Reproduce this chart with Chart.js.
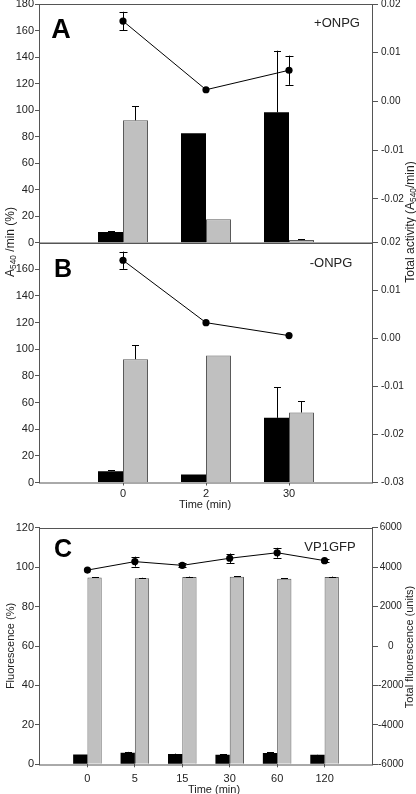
<!DOCTYPE html>
<html><head><meta charset="utf-8">
<script src="https://cdn.jsdelivr.net/npm/chart.js@4.4.1/dist/chart.umd.min.js"></script>
<style>
html,body{margin:0;padding:0;background:#fff;}
body{width:416px;height:794px;position:relative;overflow:hidden;font-family:"Liberation Sans",Arial,sans-serif;color:#222;}
canvas{position:absolute;left:0;}
.t{position:absolute;white-space:nowrap;transform:translate(-50%,-50%);line-height:1;}
.r{transform:translate(-50%,-50%) rotate(-90deg);}
.big{font-weight:bold;color:#000;}
sub{font-size:70%;vertical-align:-2px;line-height:0;}
</style></head><body>
<canvas id="cA" width="416" height="250" style="top:0px"></canvas>
<canvas id="cB" width="416" height="271" style="top:232px"></canvas>
<canvas id="cC" width="416" height="279" style="top:515px"></canvas>

<div class="t big" style="left:61px;top:29px;font-size:27px">A</div>
<div class="t big" style="left:63px;top:268px;font-size:25px">B</div>
<div class="t big" style="left:63px;top:548px;font-size:25px">C</div>
<div class="t" style="left:337px;top:22px;font-size:13px">+ONPG</div>
<div class="t" style="left:331px;top:262px;font-size:13px">-ONPG</div>
<div class="t" style="left:330px;top:546px;font-size:13px">VP1GFP</div>
<div class="t r" style="left:10px;top:242px;font-size:12px">A<sub>540</sub> /min (%)</div>
<div class="t r" style="left:410px;top:222px;font-size:12px">Total activity (A<sub>540</sub>/min)</div>
<div class="t r" style="left:10px;top:646px;font-size:11px">Fluorescence (%)</div>
<div class="t r" style="left:409px;top:647px;font-size:11px">Total fluorescence (units)</div>
<div class="t" style="left:205px;top:504px;font-size:11px">Time (min)</div>
<div class="t" style="left:214px;top:789px;font-size:11px">Time (min)</div>

<script>
// ---- data ----
const timeAB = ['0', '2', '30'];
const aBlack = [8, 82.5, 98.3];
const aBlackErr = [0.5, 0, 46.5];
const aGray = [92.3, 17.6, 2];
const aGrayErr = [10.7, 0, 0.8];
const aTotal = [0.0165, 0.0024, 0.0064];
const aTotalErr = [0.0019, 0, 0.003];

const bBlack = [8.5, 6, 48.5];
const bBlackErr = [0.7, 0, 23];
const bGray = [92.5, 95.3, 52.5];
const bGrayErr = [10.5, 0, 8.3];
const bTotal = [0.0163, 0.0033, 0.0006];
const bTotalErr = [0.0018, 0, 0];

const timeC = ['0', '5', '15', '30', '60', '120'];
const cBlack = [5, 5.9, 5.2, 4.9, 5.7, 4.8];
const cBlackErr = [0, 0.4, 0.2, 0.1, 0.5, 0.1];
const cGray = [94.8, 94.3, 95, 95.1, 94.1, 95];
const cGrayErr = [0.2, 0.3, 0.2, 0.2, 0.3, 0.2];
const cTotal = [3850, 4280, 4090, 4450, 4730, 4330];
const cTotalErr = [0, 250, 100, 240, 250, 90];

const aLeftTicks = [0, 20, 40, 60, 80, 100, 120, 140, 160, 180];
const bLeftTicks = [0, 20, 40, 60, 80, 100, 120, 140, 160];
const aRightTicks = [0.02, 0.01, 0, -0.01, -0.02];
const bRightTicks = [0.02, 0.01, 0, -0.01, -0.02, -0.03];
const cLeftTicks = [0, 20, 40, 60, 80, 100, 120];
const cRightTicks = [-6000, -4000, -2000, 0, 2000, 4000, 6000];

// ---- styling / helpers ----
const FONT = '"Liberation Sans", Arial, sans-serif';
const EDGE = '#555';
const TXT = '#222';
const GRAY = '#c0c0c0';
const pad = a => [null, ...a, null];

const frame = { id: 'frame', afterDatasetsDraw(chart) {
  const a = chart.chartArea, ctx = chart.ctx;
  ctx.save(); ctx.strokeStyle = EDGE; ctx.lineWidth = 1;
  ctx.strokeRect(Math.round(a.left) - 0.5, Math.round(a.top) + 0.5, Math.round(a.right - a.left) + 1, Math.round(a.bottom - a.top) - 0.5);
  ctx.restore();
}};

const errorBars = { id: 'errorBars', afterDatasetsDraw(chart) {
  const ctx = chart.ctx;
  ctx.save(); ctx.strokeStyle = '#000'; ctx.lineWidth = 1;
  chart.data.datasets.forEach((ds, di) => {
    if (!ds.errs) return;
    const meta = chart.getDatasetMeta(di);
    const sc = chart.scales[ds.yAxisID];
    meta.data.forEach((el, i) => {
      const v = ds.data[i], e = ds.errs[i];
      if (v == null || !e) return;
      const x = Math.round(el.x) + 0.5;
      const yt = sc.getPixelForValue(v + e);
      const yb = ds.both ? sc.getPixelForValue(v - e) : el.y;
      const cw = ds.cap;
      ctx.beginPath();
      ctx.moveTo(x, yt); ctx.lineTo(x, yb);
      ctx.moveTo(x - cw / 2, Math.round(yt) + 0.5); ctx.lineTo(x + cw / 2, Math.round(yt) + 0.5);
      if (ds.both) { ctx.moveTo(x - cw / 2, Math.round(yb) + 0.5); ctx.lineTo(x + cw / 2, Math.round(yb) + 0.5); }
      ctx.stroke();
    });
  });
  ctx.restore();
}};

function makeChart(id, o) {
  return new Chart(document.getElementById(id), {
    type: 'bar',
    data: {
      labels: ['', ...o.cats, ''],
      datasets: [
        { type: 'line', data: pad(o.total), yAxisID: 'y2', borderColor: '#000', borderWidth: 1,
          pointRadius: 3.6, pointBackgroundColor: '#000', pointBorderWidth: 0, order: 0,
          errs: pad(o.totalErr), both: true, cap: 8 },
        { data: pad(o.black), backgroundColor: '#000', borderColor: '#000', borderWidth: 0,
          yAxisID: 'y', order: 1, errs: pad(o.blackErr), cap: 7 },
        { data: pad(o.gray), backgroundColor: GRAY, borderColor: '#5a5a5a', borderWidth: 1,
          yAxisID: 'y', order: 1, errs: pad(o.grayErr), cap: 7 }
      ]
    },
    options: {
      responsive: false, animation: false, events: [],
      layout: { padding: { top: o.padTop, bottom: o.padBottom, left: 0, right: 0 } },
      plugins: { legend: { display: false }, tooltip: { enabled: false } },
      datasets: { bar: { categoryPercentage: 0.6024, barPercentage: 1 } },
      scales: {
        x: {
          type: 'category', offset: false, display: o.xDisplay,
          grid: { offset: false, drawOnChartArea: false, drawTicks: true, tickLength: 3, tickColor: EDGE, color: EDGE },
          border: { display: false },
          ticks: { font: { family: FONT, size: 11 }, color: TXT, padding: o.xPad, maxRotation: 0, autoSkip: false },
          afterBuildTicks: s => { s.ticks = s.ticks.filter(t => s.getLabels()[t.value] !== ''); },
          afterFit: s => { s.height = o.xHeight; s.paddingLeft = 0; s.paddingRight = 0; }
        },
        y: {
          position: 'left', min: o.yMin, max: o.yMax,
          grid: { drawOnChartArea: false, drawTicks: true, tickLength: 5, tickColor: EDGE },
          border: { display: false },
          ticks: { font: { family: FONT, size: 11 }, color: TXT, padding: 1 },
          afterBuildTicks: s => { s.ticks = o.leftTicks.map(v => ({ value: v })); },
          afterFit: s => { s.width = 40; s.paddingTop = 0; s.paddingBottom = 0; }
        },
        y2: {
          position: 'right', min: o.y2Min, max: o.y2Max,
          grid: { drawOnChartArea: false, drawTicks: true, tickLength: 6, tickColor: EDGE },
          border: { display: false },
          ticks: { font: { family: FONT, size: 10 }, color: TXT, padding: o.rPad, crossAlign: o.rAlign,
                   callback: o.rFmt },
          afterBuildTicks: s => { s.ticks = o.rightTicks.map(v => ({ value: v })); },
          afterFit: s => { s.width = 44; s.paddingTop = 0; s.paddingBottom = 0; }
        }
      }
    },
    plugins: [frame, errorBars]
  });
}

const fmt2 = v => Number(v).toFixed(2);
const fmt0 = v => String(Math.round(v));

makeChart('cA', { cats: timeAB, black: aBlack, blackErr: aBlackErr, gray: aGray, grayErr: aGrayErr,
  total: aTotal, totalErr: aTotalErr, padTop: 4, padBottom: 7.3, xDisplay: false, xPad: 2, xHeight: 0,
  yMin: 0, yMax: 180, leftTicks: aLeftTicks, y2Min: -0.029, y2Max: 0.02, rightTicks: aRightTicks,
  rAlign: 'near', rPad: 3, rFmt: fmt2 });

makeChart('cB', { cats: timeAB, black: bBlack, blackErr: bBlackErr, gray: bGray, grayErr: bGrayErr,
  total: bTotal, totalErr: bTotalErr, padTop: 10.5, padBottom: 0, xDisplay: true, xPad: 2, xHeight: 20.5,
  yMin: 0, yMax: 180, leftTicks: bLeftTicks, y2Min: -0.03, y2Max: 0.02, rightTicks: bRightTicks,
  rAlign: 'near', rPad: 3, rFmt: fmt2 });

makeChart('cC', { cats: timeC, black: cBlack, blackErr: cBlackErr, gray: cGray, grayErr: cGrayErr,
  total: cTotal, totalErr: cTotalErr, padTop: 12.7, padBottom: 0, xDisplay: true, xPad: 5, xHeight: 29.7,
  yMin: 0, yMax: 120, leftTicks: cLeftTicks, y2Min: -6000, y2Max: 6000, rightTicks: cRightTicks,
  rAlign: 'center', rPad: 0, rFmt: fmt0 });
</script>
</body></html>
